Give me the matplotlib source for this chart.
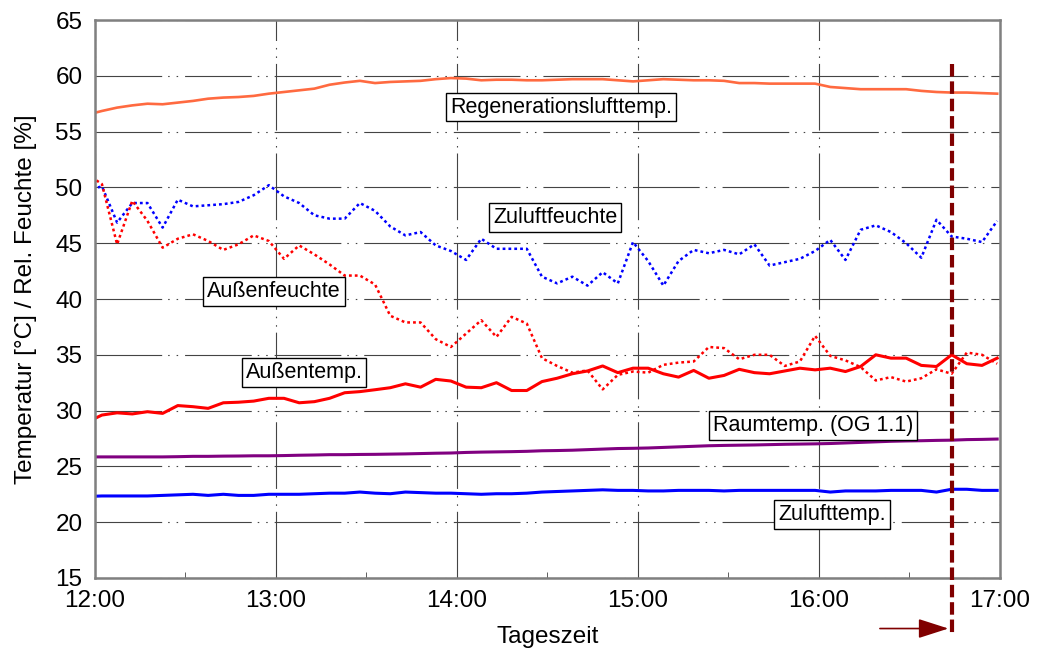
import numpy as np
import matplotlib.pyplot as plt

plt.rcParams['font.family'] = ['Liberation Sans', 'DejaVu Sans']
plt.rcParams['lines.scale_dashes'] = False

# Messzeitpunkte in Minuten nach 12:00 (ca. alle 5 min, erster Wert kurz vor 12:00)
t_start = 2.3
t_step = 5.03
times = t_start + t_step * np.arange(-1, 60)

regen_temp = [56.5, 56.85, 57.15, 57.35, 57.5, 57.45, 57.6, 57.75, 57.95, 58.05,
              58.1, 58.2, 58.4, 58.55, 58.7, 58.85, 59.2, 59.4, 59.55, 59.35,
              59.45, 59.5, 59.55, 59.7, 59.8, 59.75, 59.6, 59.65, 59.65, 59.6,
              59.6, 59.65, 59.7, 59.7, 59.7, 59.6, 59.5, 59.6, 59.7, 59.65,
              59.6, 59.6, 59.55, 59.35, 59.35, 59.3, 59.3, 59.3, 59.3, 59.0,
              58.9, 58.8, 58.8, 58.8, 58.8, 58.65, 58.55, 58.5, 58.5, 58.45, 58.4]

zuluft_feuchte = [49.7, 50.1, 46.85, 48.6, 48.6, 46.4, 48.9, 48.3, 48.4, 48.5,
                  48.7, 49.3, 50.2, 49.2, 48.6, 47.5, 47.2, 47.2, 48.6, 47.9,
                  46.5, 45.7, 46.0, 44.8, 44.3, 43.5, 45.4, 44.5, 44.5, 44.5,
                  42.0, 41.4, 42.0, 41.2, 42.4, 41.4, 45.1, 43.4, 41.2, 43.4,
                  44.4, 44.1, 44.4, 44.0, 44.9, 43.0, 43.3, 43.6, 44.3, 45.3,
                  43.5, 46.2, 46.6, 46.0, 45.0, 43.7, 47.1, 45.6, 45.4, 45.1, 47.0]

aussen_feuchte = [51.2, 50.3, 44.9, 48.8, 47.0, 44.6, 45.4, 45.8, 45.2, 44.4,
                  44.9, 45.7, 45.2, 43.6, 44.8, 44.0, 43.1, 42.1, 42.1, 41.3,
                  38.5, 37.9, 37.9, 36.4, 35.7, 36.9, 38.1, 36.6, 38.4, 37.8,
                  34.7, 34.0, 33.4, 33.6, 31.9, 33.2, 33.5, 33.4, 34.1, 34.3,
                  34.4, 35.7, 35.6, 34.6, 35.0, 35.0, 34.0, 34.4, 36.7, 34.9,
                  34.5, 33.9, 32.7, 33.0, 32.6, 32.9, 33.7, 33.3, 35.2, 35.0, 34.2]

aussen_temp = [28.95, 29.6, 29.8, 29.7, 29.9, 29.75, 30.45, 30.35, 30.2, 30.7,
               30.75, 30.85, 31.1, 31.1, 30.7, 30.8, 31.1, 31.6, 31.7, 31.87,
               32.05, 32.4, 32.1, 32.8, 32.65, 32.1, 32.05, 32.5, 31.8, 31.8,
               32.6, 32.9, 33.3, 33.55, 34.0, 33.4, 33.8, 33.8, 33.3, 33.0,
               33.6, 32.9, 33.15, 33.7, 33.4, 33.3, 33.55, 33.8, 33.65, 33.8,
               33.5, 33.95, 35.0, 34.7, 34.7, 34.05, 33.95, 35.0, 34.2, 34.05, 34.7]

raum_temp = [25.85, 25.85, 25.85, 25.85, 25.85, 25.85, 25.87,
             25.9, 25.9, 25.92, 25.93, 25.95, 25.95,
             25.97, 26.0, 26.02, 26.05, 26.05, 26.07,
             26.08, 26.1, 26.12, 26.15, 26.18, 26.2,
             26.25, 26.28, 26.3, 26.32, 26.35, 26.4,
             26.42, 26.45, 26.5, 26.55, 26.6, 26.62,
             26.65, 26.7, 26.75, 26.8, 26.85, 26.88,
             26.9, 26.92, 26.95, 26.98, 27.0, 27.02,
             27.05, 27.1, 27.15, 27.2, 27.25, 27.28,
             27.3, 27.33, 27.35, 27.4, 27.42, 27.45]

zuluft_temp = [22.3, 22.35, 22.35, 22.35, 22.35, 22.4, 22.45, 22.5, 22.4, 22.5,
               22.4, 22.4, 22.5, 22.5, 22.5, 22.55, 22.6, 22.6, 22.7, 22.6,
               22.55, 22.7, 22.65, 22.6, 22.6, 22.55, 22.5, 22.55, 22.55, 22.6,
               22.7, 22.75, 22.8, 22.85, 22.9, 22.85, 22.85, 22.8, 22.8, 22.85,
               22.85, 22.85, 22.8, 22.85, 22.85, 22.85, 22.85, 22.85, 22.85, 22.7,
               22.8, 22.8, 22.8, 22.85, 22.85, 22.85, 22.7, 22.95, 22.95, 22.85, 22.85]

tick_minutes = [0, 60, 120, 180, 240, 300]
tick_labels = ['12:00', '13:00', '14:00', '15:00', '16:00', '17:00']
y_ticks = [15, 20, 25, 30, 35, 40, 45, 50, 55, 60, 65]

# Beschriftungen der Kurven: (Text, Minute, Wert)
curve_labels = [
    ('Regenerationslufttemp.', 154.5, 57.2),
    ('Zuluftfeuchte', 152.5, 47.3),
    ('Außenfeuchte', 59.3, 40.7),
    ('Außentemp.', 69.3, 33.4),
    ('Raumtemp. (OG 1.1)', 238.0, 28.66),
    ('Zulufttemp.', 244.3, 20.7),
]

marker_time = 284.0


def plot_chart():
    fig = plt.figure(figsize=(10.37, 6.5), dpi=100)
    ax = fig.add_axes([0.0916, 0.1108, 0.8727, 0.8584])

    dotted = (0, (2.0, 2.2))
    ax.plot(times, regen_temp, color='#ff6a40', lw=1.9)
    ax.plot(times, zuluft_feuchte, color='#0000ff', lw=1.8, linestyle=dotted)
    ax.plot(times, aussen_feuchte, color='#ff0000', lw=1.8, linestyle=dotted)
    ax.plot(times, aussen_temp, color='#ff0000', lw=2.2)
    ax.plot(times, raum_temp, color='#800080', lw=2.2)
    ax.plot(times, zuluft_temp, color='#0000ff', lw=2.2)

    for text, x, y in curve_labels:
        ax.text(x, y, text, ha='center', va='center', fontsize=15.5, zorder=5,
                bbox=dict(boxstyle='square,pad=0.18', fc='white', ec='black', lw=1))

    # gestrichelte Markierung mit Pfeil unter der Achse
    ax.plot([marker_time, marker_time], [61.1, 10.0], color='#800000', lw=3,
            linestyle=(0, (9, 3.5)), clip_on=False, zorder=6)
    ax.annotate('', xy=(282.9, 10.47), xytext=(260.2, 10.47), annotation_clip=False,
                arrowprops=dict(arrowstyle='-|>,head_length=1.87,head_width=0.6',
                                mutation_scale=10, color='#800000', lw=1.2,
                                shrinkA=0, shrinkB=0))

    ax.set_xlim(0, 300)
    ax.set_ylim(15, 65)
    ax.set_xticks(tick_minutes)
    ax.set_xticklabels(tick_labels)
    ax.set_xticks([30, 90, 150, 210, 270], minor=True)
    ax.set_yticks(y_ticks)
    ax.tick_params(axis='both', which='major', direction='in', length=0,
                   labelsize=17.5, pad=9)
    ax.tick_params(axis='x', which='minor', direction='in', length=4, color='#444444')

    grid_style = (0, (48, 4.3, 1.1, 5, 1.1, 5))
    ax.grid(True, color='#444444', lw=0.8, linestyle=grid_style)
    ax.set_axisbelow(True)

    for spine in ax.spines.values():
        spine.set_color('#808080')
        spine.set_linewidth(1.8)

    ax.set_xlabel('Tageszeit', fontsize=17.5, labelpad=10)
    ax.set_ylabel('Temperatur [°C] / Rel. Feuchte [%]', fontsize=17.5, labelpad=13)

    fig.savefig('out.png', dpi=100)


if __name__ == "__main__":
    plot_chart()
